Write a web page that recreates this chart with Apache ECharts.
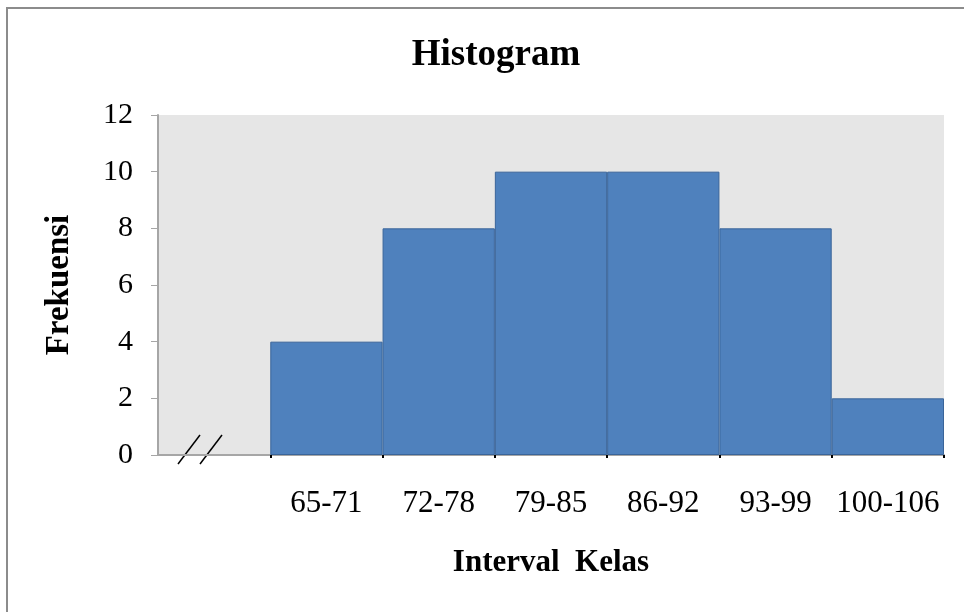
<!DOCTYPE html>
<html><head><meta charset="utf-8">
<script src="https://cdn.jsdelivr.net/npm/echarts@6/dist/echarts.min.js"></script>
<style>html,body{margin:0;padding:0;background:#fff}#c{width:964px;height:612px}</style>
</head><body><div id="c"></div>
<script>
const categories = ["", "65-71", "72-78", "79-85", "86-92", "93-99", "100-106"];
const frequencies = [null, 4, 8, 10, 10, 8, 2];
const yTicks = [0, 2, 4, 6, 8, 10, 12];

const chart = echarts.init(document.getElementById('c'));
const serif = '"Liberation Serif", "Times New Roman", serif';
chart.setOption({
  animation: false,
  backgroundColor: '#fff',
  title: {
    text: 'Histogram', left: 491, top: 32, textAlign: 'center',
    textStyle: {fontFamily: serif, fontSize: 37, fontWeight: 'bold', color: '#000'}
  },
  grid: {left: 158, right: 20, top: 115, bottom: 157, show: true, backgroundColor: '#e6e6e6', borderWidth: 0},
  xAxis: {
    type: 'category', data: categories, boundaryGap: true,
    name: 'Interval  Kelas', nameLocation: 'middle', nameGap: 92,
    nameTextStyle: {fontFamily: serif, fontSize: 31, fontWeight: 'bold', color: '#000'},
    axisLine: {lineStyle: {color: '#a6a6a6', width: 2}},
    axisTick: {show: true, length: 3, lineStyle: {color: '#000', width: 2}, interval: function (i) { return i > 0; }},
    axisLabel: {fontFamily: serif, fontSize: 31, color: '#000', margin: 33, interval: 0},
    splitLine: {show: false}
  },
  yAxis: {
    type: 'value', min: 0, max: 12, interval: 2,
    name: 'Frekuensi', nameLocation: 'middle', nameGap: 82, nameRotate: 90,
    nameTextStyle: {fontFamily: serif, fontSize: 33, fontWeight: 'bold', color: '#000'},
    axisLine: {show: true, lineStyle: {color: '#a6a6a6', width: 2}},
    axisTick: {show: true, inside: false, length: 7, lineStyle: {color: '#a6a6a6', width: 1}},
    axisLabel: {fontFamily: serif, fontSize: 30, color: '#000', margin: 25,
      formatter: function (v) { return yTicks.indexOf(v) >= 0 ? String(v) : ''; }},
    splitLine: {show: false}
  },
  series: [{
    type: 'bar', data: frequencies, barWidth: '100%', barCategoryGap: 0,
    itemStyle: {color: '#4f81bd', borderColor: '#3a659a', borderWidth: 1}
  }]
});

// Decorations: outer frame and axis-break marks, positioned from the axes
const p0 = chart.convertToPixel({gridIndex: 0}, [0, 0]);
const catW = chart.convertToPixel({xAxisIndex: 0}, 1) - chart.convertToPixel({xAxisIndex: 0}, 0);
const leftEdge = p0[0] - catW / 2;
const y0 = p0[1];
chart.setOption({
  graphic: [
    {type: 'rect', shape: {x: 7, y: 8, width: 1000, height: 1000}, style: {fill: null, stroke: '#8c8c8c', lineWidth: 2}, silent: true, z: -1},
    {type: 'line', shape: {x1: leftEdge + 20, y1: y0 + 9, x2: leftEdge + 42, y2: y0 - 20}, style: {stroke: '#000', lineWidth: 1.5}},
    {type: 'line', shape: {x1: leftEdge + 42, y1: y0 + 9, x2: leftEdge + 64, y2: y0 - 20}, style: {stroke: '#000', lineWidth: 1.5}}
  ]
});
</script></body></html>
